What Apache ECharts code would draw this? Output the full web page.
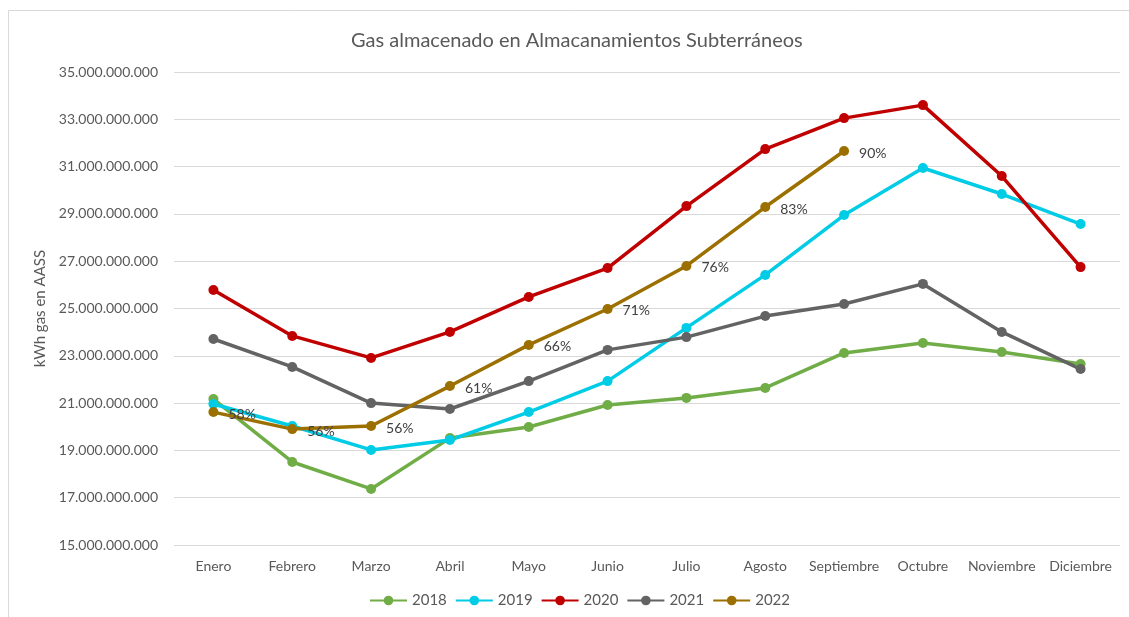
<!DOCTYPE html>
<html>
<head>
<meta charset="utf-8">
<script src="https://cdn.jsdelivr.net/npm/echarts@6/dist/echarts.min.js"></script>
<style>
  html, body { margin: 0; padding: 0; background: #fff; }
  #chart { width: 1129px; height: 617px; }
</style>
</head>
<body>
<div id="chart"></div>
<script>
const meses = ['Enero', 'Febrero', 'Marzo', 'Abril', 'Mayo', 'Junio', 'Julio', 'Agosto', 'Septiembre', 'Octubre', 'Noviembre', 'Diciembre']

// kWh almacenados (lectura aproximada del gráfico)
const gas2018 = [21.17e9, 18.51e9, 17.37e9, 19.52e9, 19.99e9, 20.92e9, 21.22e9, 21.64e9, 23.12e9, 23.54e9, 23.16e9, 22.65e9]
const gas2019 = [20.96e9, 20.03e9, 19.02e9, 19.44e9, 20.62e9, 21.93e9, 24.18e9, 26.42e9, 28.95e9, 30.94e9, 29.84e9, 28.57e9]
const gas2020 = [25.78e9, 23.84e9, 22.91e9, 24.01e9, 25.49e9, 26.71e9, 29.33e9, 31.74e9, 33.05e9, 33.60e9, 30.60e9, 26.75e9]
const gas2021 = [23.71e9, 22.53e9, 21.00e9, 20.75e9, 21.93e9, 23.25e9, 23.79e9, 24.68e9, 25.19e9, 26.04e9, 24.01e9, 22.44e9]
const gas2022 = [20.62e9, 19.90e9, 20.03e9, 21.72e9, 23.46e9, 24.98e9, 26.80e9, 29.29e9, 31.66e9]
const llenado2022 = ['58%', '56%', '56%', '61%', '66%', '71%', '76%', '83%', '90%']

const font = 'Lato, "Open Sans", sans-serif'
const gris = '#595959'

const fmt = v => String(Math.round(v)).replace(/\B(?=(\d{3})+(?!\d))/g, '.')

const serie = (name, data, color, extra) => Object.assign({
  name,
  type: 'line',
  data,
  symbol: 'circle',
  symbolSize: 10,
  lineStyle: { width: 3.5, color },
  itemStyle: { color },
  emphasis: { disabled: true }
}, extra || {})

const chart = echarts.init(document.getElementById('chart'))
chart.setOption({
  backgroundColor: '#fff',
  animation: false,
  textStyle: { fontFamily: font },
  graphic: [{
    type: 'rect',
    shape: { x: 8.5, y: 10.5, width: 1130, height: 620 },
    style: { fill: 'none', stroke: '#d9d9d9', lineWidth: 1 },
    silent: true
  }],
  title: {
    text: 'Gas almacenado en Almacanamientos Subterráneos',
    left: 346,
    top: 26,
    textStyle: { fontFamily: font, fontSize: 20, fontWeight: 'normal', color: gris }
  },
  legend: {
    bottom: 4,
    left: 364,
    itemWidth: 37,
    itemHeight: 12,
    itemGap: 8,
    textStyle: { fontFamily: font, fontSize: 15, color: gris },
    data: ['2018', '2019', '2020', '2021', '2022']
  },
  grid: { left: 174, right: 9, top: 72, bottom: 72 },
  xAxis: {
    type: 'category',
    data: meses,
    axisLine: { show: false },
    axisTick: { show: false },
    axisLabel: { color: gris, fontSize: 14, fontFamily: font, margin: 14, interval: 0 }
  },
  yAxis: {
    type: 'value',
    min: 15e9,
    max: 35e9,
    interval: 2e9,
    name: 'kWh gas en AASS',
    nameLocation: 'middle',
    nameGap: 122,
    nameTextStyle: { color: gris, fontSize: 15, fontFamily: font },
    axisLine: { show: false },
    axisTick: { show: false },
    axisLabel: { color: gris, fontSize: 14, fontFamily: font, margin: 16, formatter: fmt },
    splitLine: { lineStyle: { color: '#d9d9d9', width: 1 } }
  },
  series: [
    serie('2018', gas2018, '#70ad47'),
    serie('2019', gas2019, '#00cce6'),
    serie('2020', gas2020, '#c00000'),
    serie('2021', gas2021, '#636363'),
    serie('2022', gas2022, '#9c7000', {
      label: {
        show: true,
        position: 'right',
        distance: 10,
        offset: [0, 2],
        color: '#404040',
        fontSize: 14,
        fontFamily: font,
        formatter: p => llenado2022[p.dataIndex]
      }
    })
  ]
})
</script>
</body>
</html>
